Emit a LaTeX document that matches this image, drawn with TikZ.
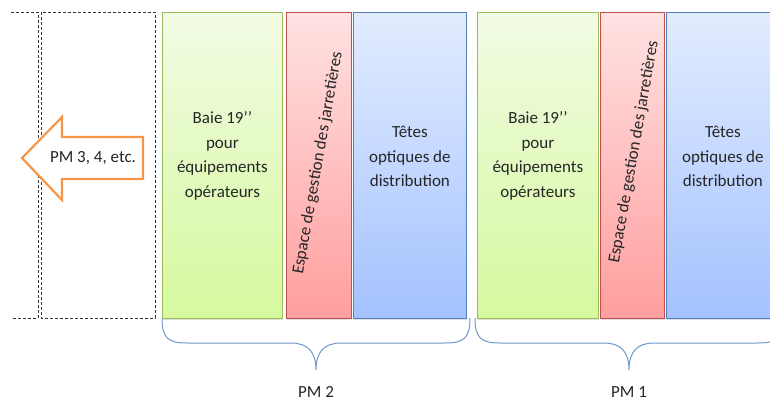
\documentclass[tikz,border=0pt]{standalone}
\usepackage{fontspec}
\setmainfont{Carlito}
\usetikzlibrary{shadows}
\definecolor{baieline}{HTML}{9BBB59}
\definecolor{baietop}{HTML}{F1FBE4}
\definecolor{baiebot}{HTML}{D6F99E}
\definecolor{jarline}{HTML}{C0504D}
\definecolor{jartop}{HTML}{FFE2E2}
\definecolor{jarbot}{HTML}{FF9E9E}
\definecolor{teteline}{HTML}{4F81BD}
\definecolor{tetetop}{HTML}{E3ECFF}
\definecolor{tetebot}{HTML}{A3C2FF}
\definecolor{braceblue}{HTML}{6E98D0}
\definecolor{pmorange}{HTML}{F79646}

\begin{document}
\begin{tikzpicture}[x=1pt, y=-1pt,
    every node/.style={font=\fontsize{17}{24.5}\selectfont, text=black!85},
    box/.style={rectangle, draw, line width=0.8pt, inner sep=0pt, anchor=north west,
        minimum height=306pt, drop shadow={shadow xshift=1pt, shadow yshift=-2pt, opacity=0.25}},
    baie/.style={box, draw=baieline, top color=baietop, bottom color=baiebot, minimum width=120pt},
    jar/.style={box, draw=jarline, top color=jartop, bottom color=jarbot, minimum width=65pt},
    tete/.style={box, draw=teteline, top color=tetetop, bottom color=tetebot, minimum width=113pt},
    txt/.style={align=center, inner sep=0pt}]
\clip (0,0) rectangle (770,401);
% other PM (dashed)
\draw[dash pattern=on 3pt off 2pt, black!80] (11,12) -- (38,12) -- (38,318) -- (11,318);
\draw[dash pattern=on 3pt off 2pt, black!80] (41,12) rectangle (155,318);
\draw[pmorange, line width=2.2pt, fill=white, line join=miter]
    (143,137) -- (62,137) -- (62,117) -- (22,158) -- (62,200) -- (62,179) -- (143,179) -- cycle;
\node[txt] (other) at (93,158) {PM 3, 4, etc.};
% PM 2
\node[baie] (B2) at (162,12) {};
\node[jar] (J2) at (286,12) {};
\node[tete] (T2) at (353,12) {};
% PM 1
\node[baie, minimum width=121pt] (B1) at (477,12) {};
\node[jar, minimum width=64pt] (J1) at (600,12) {};
\node[tete] (T1) at (666,12) {};
% texts
\foreach \n in {1,2} {
    \node[txt] (tB\n) at ([yshift=9.5pt]B\n.center) {Baie 19’’\\pour\\équipements\\opérateurs};
    \node[txt] (tT\n) at ([yshift=9pt]T\n.center) {Têtes\\optiques de\\distribution};
}
\node[txt, rotate=80] (tJ2) at (318,163) {Espace de gestion des jarretières};
\node[txt, rotate=80] (tJ1) at (634,152) {Espace de gestion des jarretières};
% braces
\foreach \m/\n in {316/2, 629/1} {
    \begin{scope}[xshift=\m pt]
    \draw[braceblue, line width=1pt]
        (-154,318) .. controls (-154,338) and (-148,343) .. (-129,343) -- (-25,343)
        .. controls (-8,343) and (0,352) .. (0,370)
        .. controls (0,352) and (8,343) .. (25,343) -- (129,343)
        .. controls (148,343) and (154,338) .. (154,318);
    \node (pm\n) at (0,392) {PM \n};
    \end{scope}
}
\end{tikzpicture}
\end{document}
